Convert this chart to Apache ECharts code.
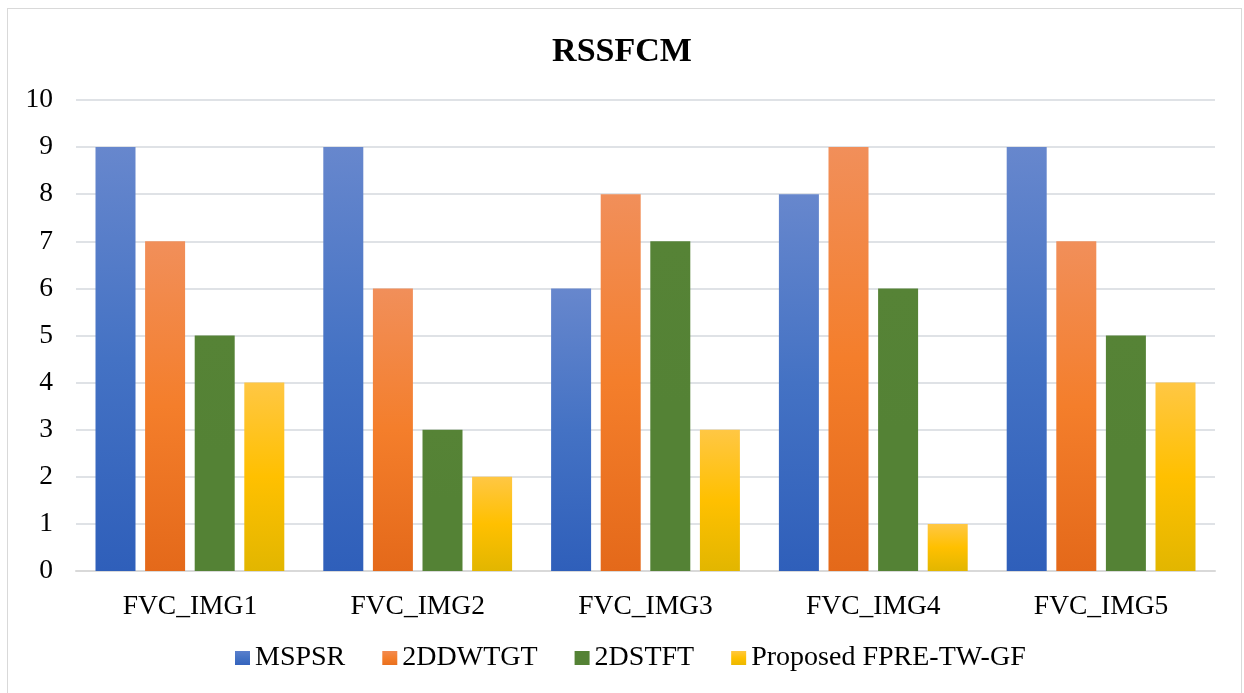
<!DOCTYPE html>
<html>
<head>
<meta charset="utf-8">
<script src="https://cdn.jsdelivr.net/npm/echarts@6/dist/echarts.min.js"></script>
<style>
  html, body { margin: 0; padding: 0; background: #ffffff; }
  #frame { position: absolute; left: 7px; top: 8px; width: 1235px; height: 690px; border: 1px solid #d9d9d9; box-sizing: border-box; }
  #chart { position: absolute; left: 0; top: 0; width: 1244px; height: 693px; }
</style>
</head>
<body>
<div id="frame"></div>
<div id="chart"></div>
<script>
const categories = ['FVC_IMG1', 'FVC_IMG2', 'FVC_IMG3', 'FVC_IMG4', 'FVC_IMG5'];
const seriesNames = ['MSPSR', '2DDWTGT', '2DSTFT', 'Proposed FPRE-TW-GF'];
const mspsr = [9, 9, 6, 8, 9];
const ddwtgt = [7, 6, 8, 9, 7];
const dstft = [5, 3, 7, 6, 5];
const proposed = [4, 2, 3, 1, 4];
const yTicks = [0, 1, 2, 3, 4, 5, 6, 7, 8, 9, 10];

const serif = '"Liberation Serif", "Times New Roman", serif';

function grad(top, mid, bottom) {
  return new echarts.graphic.LinearGradient(0, 0, 0, 1, [
    { offset: 0, color: top },
    { offset: 0.5, color: mid },
    { offset: 1, color: bottom }
  ]);
}

const fills = [
  grad('#6787cd', '#4472c4', '#2f5fba'),
  grad('#f18f5a', '#f47e2b', '#e4691a'),
  grad('#568336', '#548235', '#548235'),
  grad('#ffc744', '#ffc000', '#e2b600')
];
const legendFills = [
  grad('#5a7fcc', '#4472c4', '#3563bd'),
  grad('#f28a50', '#f47e2b', '#e9701f'),
  '#548235',
  grad('#ffc840', '#ffc000', '#ebb800')
];
const values = [mspsr, ddwtgt, dstft, proposed];

const chart = echarts.init(document.getElementById('chart'), null, { renderer: 'canvas' });
chart.setOption({
  animation: false,
  backgroundColor: 'transparent',
  title: {
    text: 'RSSFCM',
    left: 'center',
    top: 30,
    textStyle: { fontFamily: serif, fontWeight: 'bold', fontSize: 34, color: '#000' }
  },
  legend: {
    bottom: 16,
    left: 230,
    itemWidth: 15,
    itemHeight: 14,
    itemGap: 37,
    icon: 'rect',
    textStyle: { fontFamily: serif, fontSize: 28, color: '#000' },
    data: seriesNames.map((n, i) => ({ name: n, itemStyle: { color: legendFills[i] } }))
  },
  grid: { left: 76, right: 29, top: 100, bottom: 122, containLabel: false },
  xAxis: {
    type: 'category',
    data: categories,
    axisLine: { lineStyle: { color: '#d9d9d9', width: 2 } },
    axisTick: { show: false },
    axisLabel: { fontFamily: serif, fontSize: 27.5, color: '#000', margin: 22 }
  },
  yAxis: {
    type: 'value',
    min: yTicks[0],
    max: yTicks[yTicks.length - 1],
    interval: 1,
    axisLine: { show: false },
    axisTick: { show: false },
    splitLine: { lineStyle: { color: '#dfe2e6', width: 2 } },
    axisLabel: { fontFamily: serif, fontSize: 27.5, color: '#000', margin: 23 }
  },
  series: seriesNames.map((name, i) => ({
    name: name,
    type: 'bar',
    data: values[i],
    barWidth: 40,
    barGap: '24%',
    itemStyle: { color: fills[i] }
  }))
});
</script>
</body>
</html>
